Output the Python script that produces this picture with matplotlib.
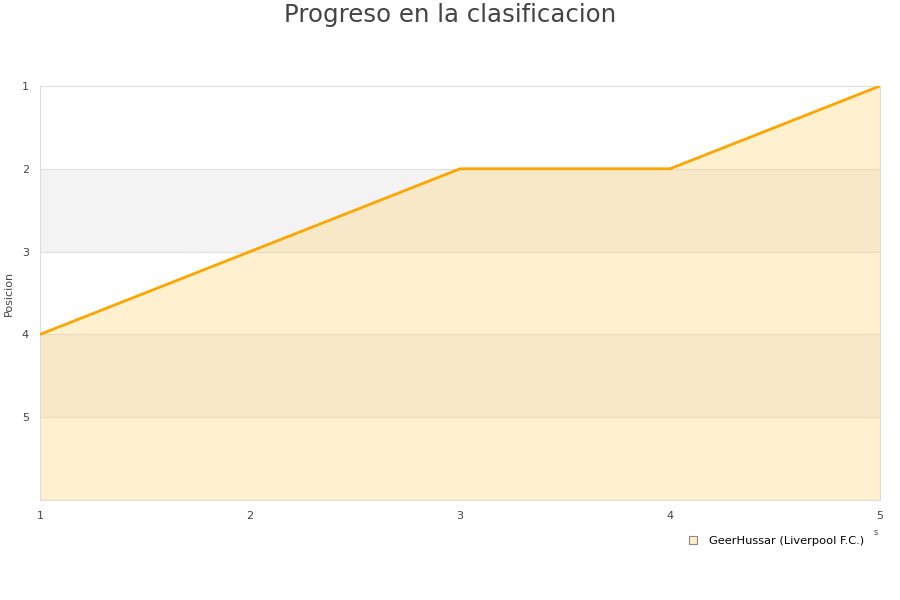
import matplotlib
matplotlib.use("Agg")
import matplotlib.pyplot as plt
from matplotlib.lines import Line2D

jornadas = [1, 2, 3, 4, 5]
posiciones = [4, 3, 2, 2, 1]
equipo = "GeerHussar (Liverpool F.C.)"

fig = plt.figure(figsize=(9, 6), dpi=100)
ax = fig.add_axes([40 / 900, 100 / 600, 840 / 900, 414 / 600])

# grey bands on alternate rows
for lo in [2, 4]:
    ax.axhspan(lo, lo + 1, color="#f3f3f3", zorder=0, lw=0)
for y in [2, 3, 4, 5]:
    ax.axhline(y, color="#e0e0e0", lw=0.8, zorder=1)

ax.fill_between(jornadas, posiciones, 6, color="#ffd47a", alpha=0.35, lw=0, zorder=2)
ax.plot(jornadas, posiciones, color="#ffa500", lw=2, zorder=3)

ax.set_xlim(1, 5)
ax.set_ylim(6, 1)
ax.set_xticks(jornadas)
ax.set_yticks([1, 2, 3, 4, 5])
ax.tick_params(length=0, labelsize=8, colors="#444444", pad=8)
for s in ax.spines.values():
    s.set_color("#dddddd")
ax.set_ylabel("Posicion", fontsize=8, color="#444444", labelpad=6)

fig.text(0.5, 0.995, "Progreso en la clasificacion", ha="center", va="top",
         fontsize=17.6, color="#444444")

handle = Line2D([], [], marker="s", ls="", markersize=6,
                markerfacecolor="#ffecc8", markeredgecolor="#888888", markeredgewidth=0.8)
fig.legend([handle], [equipo], loc="upper right", bbox_to_anchor=(874 / 900, 1 - 526 / 600),
           frameon=False, fontsize=8.2, handletextpad=0.4)
fig.text(876 / 900, 1 - 535 / 600, "s", fontsize=6, color="#444444", ha="center")

fig.savefig("out.png")
